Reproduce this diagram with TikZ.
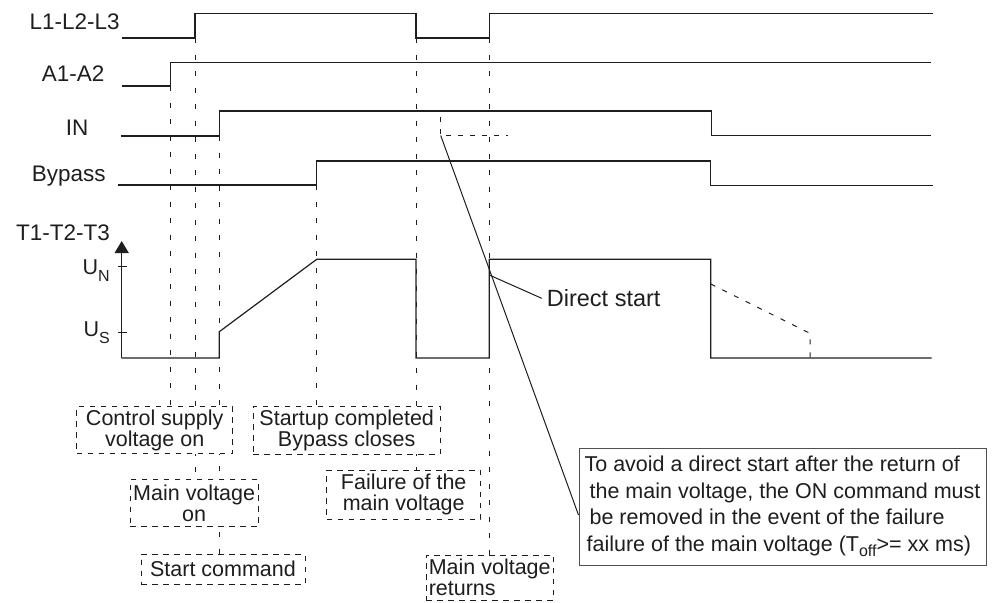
\documentclass[tikz,border=0pt]{standalone}
\usepackage{fontspec}
\setmainfont{Liberation Sans}
\usetikzlibrary{arrows.meta,calc}
\definecolor{ink}{HTML}{1E1E1E}
\definecolor{notegray}{HTML}{505050}
\newcommand{\mysub}[2]{\raisebox{-#1}{\fontsize{16}{16}\selectfont #2}}
\begin{document}
\begin{tikzpicture}[x=1pt,y=-1pt,
  trace/.style={draw=ink, line width=1.2pt, line join=miter},
  guide/.style={draw=ink, line width=1pt, dash pattern=on 5pt off 11.5pt},
  evbox/.style={draw=ink, line width=1pt, dash pattern=on 5.5pt off 5.5pt, fill=white,
                inner sep=0pt, align=center, text=ink,
                font=\fontsize{21.5}{21.5}\selectfont},
  sig/.style={inner sep=0pt, text=ink, font=\fontsize{22.5}{27}\selectfont},
  lev/.style={inner sep=0pt, text=ink, font=\fontsize{21.5}{26}\selectfont},
]
\useasboundingbox (0,0) rectangle (997,603);

% signal labels
\node[sig, anchor=base west] (lL) at (29.3,29.3) {L1-L2-L3};
\node[sig, anchor=base west] (lA) at (41.7,81) {A1-A2};
\node[sig, anchor=base west] (lI) at (65.7,135) {IN};
\node[sig, anchor=base west] (lB) at (31.7,181.7) {Bypass};
\node[sig, anchor=base west] (lT) at (16,240.7) {T1-T2-T3};
\node[lev, anchor=base east] (lUN) at (110,274.3) {U\mysub{7pt}{N}};
\node[lev, anchor=base east] (lUS) at (110,336.7) {U\mysub{7pt}{S}};

% edge coordinates
\coordinate (eA) at (170.7,86);
\coordinate (eL) at (195,38);
\coordinate (eI) at (219.3,136);
\coordinate (eB) at (316.7,185);
\coordinate (eF) at (416,38);
\coordinate (eR) at (489.3,38);

% guides
\draw[guide] (eA) -- (170.7,406.7);
\draw[guide] (eL) -- (195,480);
\draw[guide] (eI) -- (219.3,554.3);
\draw[guide] (eB) -- (316.7,406);
\draw[guide] (eF) -- (416,470);
\draw[guide] (eR) -- (489.3,555);

% event boxes
\node[evbox, minimum width=156pt, minimum height=47.3pt] (ctrl) at (154.7,430.3) {Control supply\\voltage on};
\node[evbox, minimum width=186.7pt, minimum height=48.3pt] (startup) at (346.7,430.2) {Startup completed\\Bypass closes};
\node[evbox, minimum width=128.3pt, minimum height=46.7pt] (mainon) at (194.2,503.3) {Main voltage\\on};
\node[evbox, minimum width=154pt, minimum height=49pt] (fail) at (403.7,494.5) {Failure of the\\main voltage};
\node[evbox, minimum width=164pt, minimum height=29.7pt] (startcmd) at (223,569.2) {Start command};
\node[evbox, minimum width=127.3pt, minimum height=45pt, align=left] (ret) at (489.7,577.5) {Main voltage\\returns};

% traces
\draw[trace] (121.7,38) -- (eL) -- (195,13.3) -- (416,13.3) -- (eF) -- (eR) -- (489.3,13.3) -- (932.7,13.3);
\draw[trace] (121.7,86) -- (eA) -- (170.7,62.3) -- (930.7,62.3);
\draw[trace] (120.7,136) -- (eI) -- (219.3,111) -- (711.7,111) -- (711.7,135.5) -- (930.7,135.5);
\draw[trace] (118.3,185) -- (eB) -- (316.7,161) -- (710.7,161) -- (710.7,185.7) -- (932.7,185.7);

% T1-T2-T3
\draw[trace, -{Triangle[width=14pt,length=12pt]}] (121.7,358) -- (121.7,241);
\draw[trace] (118,266.7) -- (127,266.7);
\draw[trace] (118,332.7) -- (127,332.7);
\draw[trace] (121.7,358) -- (219.3,358) -- (219.3,331.7) -- (316.7,259.3) -- (416,259.3) -- (416,358)
  -- (489.3,358) -- (489.3,259.3) -- (710.7,259.3) -- (710.7,358) -- (931.7,358);
\draw[guide, dash pattern=on 5pt off 8pt] (710.7,284) -- (810,333.3) -- (810,358);

% IN dashed (removed ON command)
\coordinate (inoff) at (440.7,135.5);
\draw[guide, dash pattern=on 5pt off 7pt] (440.7,117) -- (inoff) -- (508,135.5);

% Direct start
\node[inner sep=0pt, text=ink, font=\fontsize{23.5}{28}\selectfont, anchor=base west] (ds) at (546.7,306.7) {Direct start};
\draw[ink, line width=1pt] (489.3,275) -- ([xshift=-5pt]ds.west);

% note box
\node[draw=notegray, line width=1pt, minimum width=407pt, minimum height=117pt, inner sep=0pt,
      align=left, text=ink, font=\fontsize{21.5}{26.5}\selectfont] (note) at (782.5,506.5)
  {To avoid a direct start after the return of\\
   \hspace*{5pt}the main voltage, the ON command must\\
   \hspace*{5pt}be removed in the event of the failure\\
   \hspace*{2pt}failure of the main voltage (T\mysub{5pt}{off}>= xx ms)};
\coordinate (notein) at (note.west |- 0,515);
\draw[ink, line width=1pt] (inoff) -- (notein);
\end{tikzpicture}
\end{document}
